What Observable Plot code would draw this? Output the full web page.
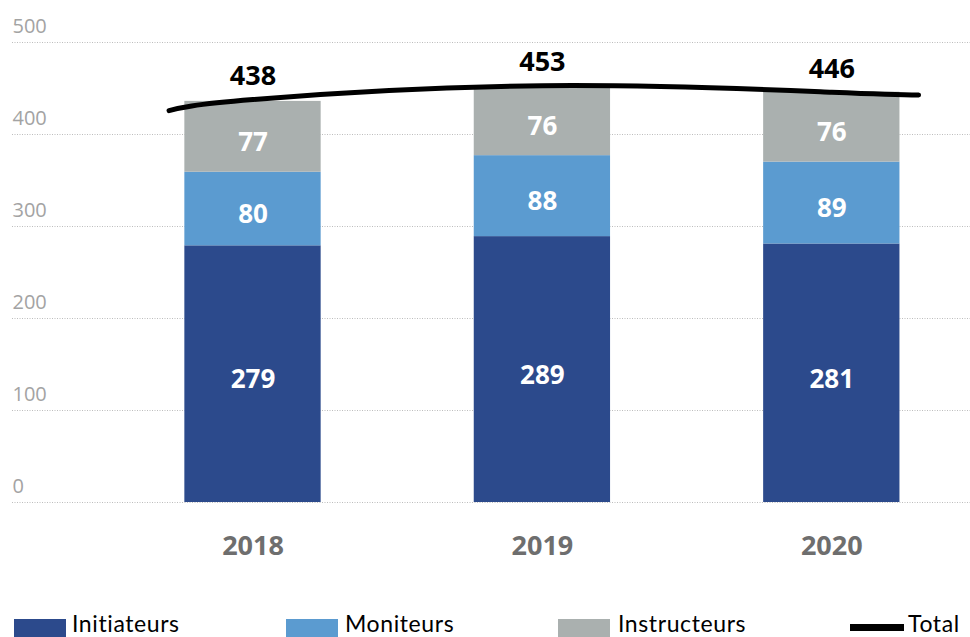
<!DOCTYPE html>
<html>
<head>
<meta charset="utf-8">
<script src="https://cdn.jsdelivr.net/npm/d3@7"></script>
<script src="https://cdn.jsdelivr.net/npm/@observablehq/plot@0.6"></script>
<style>
  html, body { margin: 0; padding: 0; background: #fff; }
  #wrap { width: 970px; height: 637px; position: relative; overflow: hidden; }
  #legend { position: absolute; left: 0; top: 600px; width: 970px; height: 37px; font-family: Lato, "Open Sans", sans-serif; font-size: 23px; color: #000; }
  .item { position: absolute; top: 0; height: 37px; }
  .sw { position: absolute; left: 0; top: 19px; width: 52px; height: 18px; }
  .lbl { position: absolute; top: 13px; white-space: nowrap; line-height: 20px; letter-spacing: 0.6px; }
</style>
</head>
<body>
<div id="wrap">
  <div id="chart"></div>
  <div id="legend"></div>
</div>
<script>
const years = [2018, 2019, 2020];
const series = ["Initiateurs", "Moniteurs", "Instructeurs"];
const initiateurs = [279, 289, 281];
const moniteurs = [80, 88, 89];
const instructeurs = [77, 76, 76];
const totals = [438, 453, 446];
// Total line as drawn (extends slightly beyond the outer bars)
const totalLineYears = [2017.71, 2018, 2019, 2020, 2020.30];
const totalLineValues = [426, 438, 453, 446, 443];
const yTicks = [0, 100, 200, 300, 400, 500];
const colors = ["#2c4a8c", "#5b9bd0", "#aab0af"];

const seriesValues = [initiateurs, moniteurs, instructeurs];
const table = [];
years.forEach((yr, i) => {
  let acc = 0;
  series.forEach((s, j) => {
    const v = seriesValues[j][i];
    table.push({year: yr, series: s, value: v, y1: acc, y2: acc + v});
    acc += v;
  });
});
const totalTable = years.map((yr, i) => ({year: yr, total: totals[i]}));
const lineTable = totalLineYears.map((yr, i) => ({year: yr, total: totalLineValues[i]}));
const half = 0.2355;

const chart = Plot.plot({
  width: 970,
  height: 600,
  marginLeft: 12,
  marginRight: 0,
  marginTop: 0,
  marginBottom: 0,
  style: {fontFamily: "'Open Sans', sans-serif", background: "#fff"},
  x: {domain: [2018, 2020], range: [252.5, 831.3], axis: null},
  y: {domain: [0, 500], range: [502, 42], axis: null},
  color: {domain: series, range: colors},
  marks: [
    Plot.ruleY(yTicks, {stroke: "#bdbdbd", strokeWidth: 1, strokeDasharray: "1,1.5"}),
    Plot.text(yTicks, {y: d => d, text: d => String(d), frameAnchor: "left", textAnchor: "start", dy: -16, fill: "#a3a3a3", fontSize: 20}),
    Plot.rect(table, {x1: d => d.year - half, x2: d => d.year + half, y1: "y1", y2: "y2", fill: "series"}),
    Plot.text(table, {x: "year", y: d => (d.y1 + d.y2) / 2, text: d => String(d.value), fill: "white", fontWeight: "bold", fontSize: 26, dy: 6}),
    Plot.line(lineTable, {x: "year", y: "total", stroke: "black", strokeWidth: 5, curve: "natural"}),
    Plot.text(totalTable, {x: "year", y: "total", text: d => String(d.total), fill: "black", fontWeight: "bold", fontSize: 27, dy: -23}),
    Plot.text(years, {x: d => d, y: () => 0, text: d => String(d), fill: "#6e6e6e", fontWeight: "bold", fontSize: 27, dy: 44})
  ]
});
document.getElementById("chart").appendChild(chart);

// Legend
const legend = document.getElementById("legend");
const legendItems = [
  {label: "Initiateurs", color: colors[0], left: 14, textLeft: 58, line: false},
  {label: "Moniteurs", color: colors[1], left: 286, textLeft: 59, line: false},
  {label: "Instructeurs", color: colors[2], left: 558, textLeft: 60, line: false},
  {label: "Total", color: "#000", left: 850, textLeft: 58, line: true}
];
legendItems.forEach(it => {
  const d = document.createElement("div");
  d.className = "item";
  d.style.left = it.left + "px";
  const sw = document.createElement("div");
  sw.className = "sw";
  sw.style.background = it.color;
  if (it.line) { sw.style.top = "24px"; sw.style.height = "7px"; sw.style.width = "54px"; }
  const t = document.createElement("div");
  t.className = "lbl";
  t.style.left = it.textLeft + "px";
  t.textContent = it.label;
  d.appendChild(sw);
  d.appendChild(t);
  legend.appendChild(d);
});
</script>
</body>
</html>
